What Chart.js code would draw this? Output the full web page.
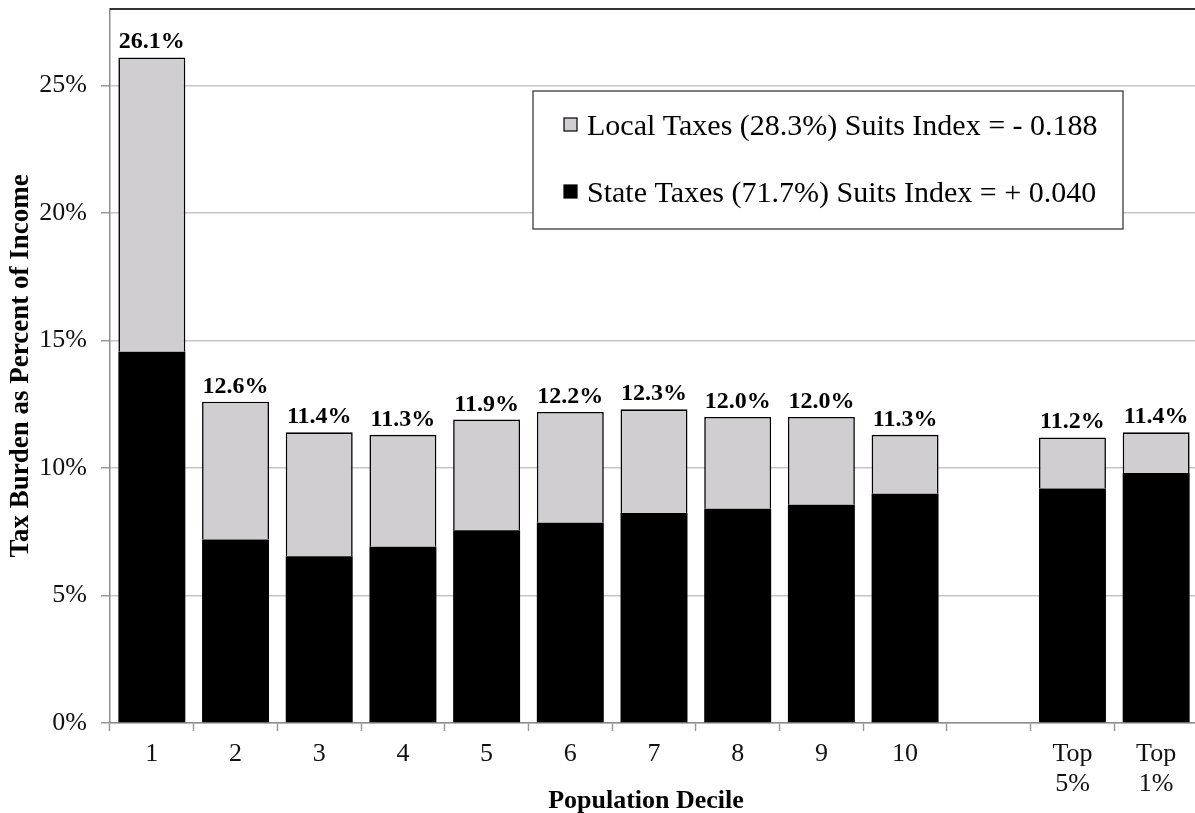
<!DOCTYPE html>
<html>
<head>
<meta charset="utf-8">
<script src="https://cdn.jsdelivr.net/npm/chart.js@4/dist/chart.umd.min.js"></script>
<style>
  html, body { margin: 0; padding: 0; background: #fff; overflow: hidden; }
  #wrap { width: 1200px; height: 813px; }
</style>
</head>
<body>
<div id="wrap"><canvas id="c" width="1200" height="813"></canvas></div>
<script>
// Deciles, an empty spacer column, then the top income groups
const categories = ['1', '2', '3', '4', '5', '6', '7', '8', '9', '10', '', ['Top', '5%'], ['Top', '1%']];

// Total tax burden (% of income) printed above each column
const totalBurden = [26.1, 12.6, 11.4, 11.3, 11.9, 12.2, 12.3, 12.0, 12.0, 11.3, null, 11.2, 11.4];

// State share of the burden (% of income)
const stateTaxes = [14.56, 7.20, 6.54, 6.91, 7.56, 7.85, 8.24, 8.40, 8.56, 8.99, null, 9.20, 9.80];

// Local share: the rest of each column up to its printed total
const localTaxes = totalBurden.map((t, i) => t == null ? null : +(t - stateTaxes[i]).toFixed(2));

const stateLabel = 'State Taxes (71.7%) Suits Index = + 0.040';
const localLabel = 'Local Taxes (28.3%) Suits Index = - 0.188';

const yTickValues = [0, 5, 10, 15, 20, 25];
const yAxisMax = 28;

const yTitle = 'Tax Burden as Percent of Income';
const xTitle = 'Population Decile';

const SERIF = '"Liberation Serif", "Times New Roman", serif';
const GRAY_FILL = '#d0ced0';

// Dark frame line along the top (and right) of the plot area
const framePlugin = {
  id: 'frame',
  afterDatasetsDraw(chart) {
    const { ctx, chartArea: a } = chart;
    ctx.save();
    ctx.strokeStyle = '#333';
    ctx.lineWidth = 2;
    ctx.beginPath();
    ctx.moveTo(a.left, a.top);
    ctx.lineTo(a.right, a.top);
    ctx.lineTo(a.right, a.bottom);
    ctx.stroke();
    ctx.restore();
  }
};

// Bold total above each stacked column
const totalsPlugin = {
  id: 'totals',
  afterDatasetsDraw(chart) {
    const { ctx } = chart;
    const top = chart.getDatasetMeta(1).data;
    ctx.save();
    ctx.font = 'bold 24px ' + SERIF;
    ctx.fillStyle = '#000';
    ctx.textAlign = 'center';
    ctx.textBaseline = 'alphabetic';
    totalBurden.forEach((v, i) => {
      if (v == null) return;
      const bar = top[i];
      const y = chart.scales.y.getPixelForValue(v);
      ctx.fillText(v.toFixed(1) + '%', bar.x, y - 9);
    });
    ctx.restore();
  }
};

// Boxed legend floating inside the plot area
const legendBoxPlugin = {
  id: 'legendBox',
  afterDraw(chart) {
    const { ctx, chartArea: a } = chart;
    const left = a.left + 423, top = a.top + 82, w = 590, h = 138;
    ctx.save();
    ctx.fillStyle = '#fff';
    ctx.fillRect(left, top, w, h);
    ctx.strokeStyle = '#555';
    ctx.lineWidth = 1.5;
    ctx.strokeRect(left, top, w, h);
    const rows = [
      { ds: chart.data.datasets[1], y: top + 35 },
      { ds: chart.data.datasets[0], y: top + 102 }
    ];
    ctx.font = '30px ' + SERIF;
    ctx.textBaseline = 'alphabetic';
    ctx.textAlign = 'left';
    rows.forEach(r => {
      ctx.fillStyle = r.ds.backgroundColor;
      ctx.fillRect(left + 31, r.y - 8, 13, 13);
      ctx.strokeStyle = '#000';
      ctx.lineWidth = 1.2;
      ctx.strokeRect(left + 31, r.y - 8, 13, 13);
      ctx.fillStyle = '#000';
      ctx.fillText(r.ds.label, left + 54, r.y + 9);
    });
    ctx.restore();
  }
};

// Axis titles
const axisTitlesPlugin = {
  id: 'axisTitles',
  afterDraw(chart) {
    const { ctx, chartArea: a } = chart;
    ctx.save();
    ctx.fillStyle = '#000';
    ctx.textAlign = 'center';
    ctx.textBaseline = 'middle';
    ctx.font = 'bold 26px ' + SERIF;
    ctx.fillText(xTitle, a.left + 536, 801);
    ctx.font = 'bold 27px ' + SERIF;
    ctx.translate(21, (a.top + a.bottom) / 2);
    ctx.rotate(-Math.PI / 2);
    ctx.fillText(yTitle, 0, 0);
    ctx.restore();
  }
};

new Chart(document.getElementById('c'), {
  type: 'bar',
  data: {
    labels: categories,
    datasets: [
      {
        label: stateLabel,
        data: stateTaxes,
        backgroundColor: '#000',
        borderWidth: 0
      },
      {
        label: localLabel,
        data: localTaxes,
        backgroundColor: GRAY_FILL,
        borderColor: '#000',
        borderWidth: 1.6,
        borderSkipped: 'bottom'
      }
    ]
  },
  options: {
    responsive: false,
    devicePixelRatio: 1,
    animation: false,
    layout: { padding: { top: 9, right: 2, left: 0, bottom: 0 } },
    datasets: { bar: { barPercentage: 0.8, categoryPercentage: 1.0 } },
    plugins: { legend: { display: false }, tooltip: { enabled: false } },
    scales: {
      x: {
        stacked: true,
        offset: true,
        grid: {
          offset: true,
          drawOnChartArea: false,
          drawTicks: true,
          tickLength: 8,
          tickColor: '#999',
          tickWidth: 1.5
        },
        border: { color: '#8c8c8c', width: 1.5 },
        ticks: {
          font: { family: SERIF, size: 26, lineHeight: 1.15 },
          color: '#111',
          padding: 8,
          maxRotation: 0,
          autoSkip: false
        },
        afterFit(scale) {
          scale.height = 90;
          scale.paddingLeft = 0;
          scale.paddingRight = 0;
        }
      },
      y: {
        stacked: true,
        min: 0,
        max: yAxisMax,
        afterBuildTicks(scale) { scale.ticks = yTickValues.map(v => ({ value: v })); },
        grid: {
          color: '#c6c6c6',
          lineWidth: 1.5,
          tickLength: 9,
          tickColor: '#999',
          tickWidth: 1.5
        },
        border: { color: '#8c8c8c', width: 1.5 },
        ticks: {
          font: { family: SERIF, size: 26 },
          color: '#111',
          padding: 14,
          callback: v => v + '%'
        },
        afterFit(scale) {
          scale.width = 110;
          scale.paddingTop = 0;
          scale.paddingBottom = 0;
        }
      }
    }
  },
  plugins: [framePlugin, totalsPlugin, legendBoxPlugin, axisTitlesPlugin]
});
</script>
</body>
</html>
